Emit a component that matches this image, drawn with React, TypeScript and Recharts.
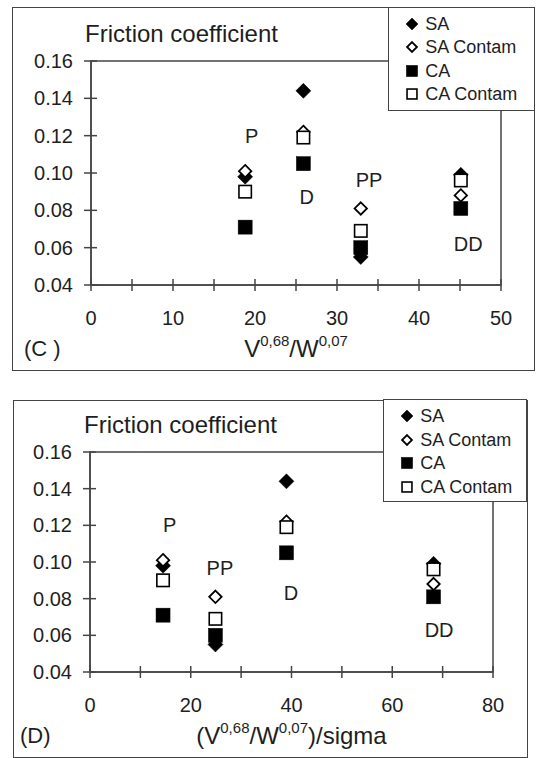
import React from "react";
import { ScatterChart, Scatter, XAxis, YAxis, ReferenceArea } from "recharts";

const FONT = "'Liberation Sans', Arial, Helvetica, sans-serif";
const INK = "#1e1e1e";
const LINE = "#444444";

// friction coefficient per test point, order P, D, PP, DD
const SA = [0.098, 0.144, 0.055, 0.099];
const SA_CONTAM = [0.101, 0.122, 0.081, 0.088];
const CA = [0.071, 0.105, 0.06, 0.081];
const CA_CONTAM = [0.09, 0.119, 0.069, 0.096];

// x positions: (C) V^0.68/W^0.07, (D) the same divided by sigma
const X_C = [18.8, 25.9, 32.9, 45.1];
const X_D = [14.5, 39.0, 24.9, 68.2];

const Y_MIN = 0.04;
const Y_MAX = 0.16;
const Y_TICKS = [0.04, 0.06, 0.08, 0.1, 0.12, 0.14, 0.16];
const X_TICKS_C = [0, 5, 10, 15, 20, 25, 30, 35, 40, 45, 50];
const X_TICKS_D = [0, 10, 20, 30, 40, 50, 60, 70, 80];

// regime notes written inside the plots
const NOTE_TEXT_C = ["P", "D", "PP", "DD"];
const NOTE_X_C = [19.6, 26.3, 33.9, 46.0];
const NOTE_Y_C = [0.12, 0.087, 0.096, 0.062];
const NOTE_TEXT_D = ["P", "PP", "D", "DD"];
const NOTE_X_D = [15.8, 25.8, 39.9, 69.3];
const NOTE_Y_D = [0.12, 0.097, 0.083, 0.063];

const SERIES = [
  { name: "SA", values: SA, kind: "diamond", filled: true },
  { name: "SA Contam", values: SA_CONTAM, kind: "diamond", filled: false },
  { name: "CA", values: CA, kind: "square", filled: true },
  { name: "CA Contam", values: CA_CONTAM, kind: "square", filled: false },
];

function Marker({ cx, cy, kind, filled, scale = 1 }: any) {
  if (cx == null || cy == null) return null;
  if (kind === "diamond") {
    const h = (filled ? 7.5 : 6.2) * scale;
    return (
      <path
        d={`M${cx},${cy - h}L${cx + h},${cy}L${cx},${cy + h}L${cx - h},${cy}Z`}
        fill={filled ? "#000" : "#fff"}
        stroke="#000"
        strokeWidth={filled ? 0.5 : 1.8}
      />
    );
  }
  const h = (filled ? 7 : 6.2) * scale;
  return (
    <rect
      x={cx - h}
      y={cy - h}
      width={2 * h}
      height={2 * h}
      fill={filled ? "#000" : "#fff"}
      stroke="#000"
      strokeWidth={filled ? 0.5 : 1.6}
    />
  );
}

// axis numbers only; the crossing tick marks are drawn as small scatter glyphs
const XTick = ({ x, y, payload, every }: any) =>
  payload.value % every === 0 ? (
    <text x={x} y={y + 40} textAnchor="middle" fontSize={20} fill={INK} fontFamily={FONT}>
      {payload.value}
    </text>
  ) : (
    <g />
  );

const YTick = ({ x, y, payload }: any) => (
  <text x={x - 18} y={y + 7} textAnchor="end" fontSize={20} fill={INK} fontFamily={FONT}>
    {payload.value.toFixed(2)}
  </text>
);

const YTitle = ({ viewBox }: any) => (
  <text x={viewBox.x + viewBox.width - 6} y={viewBox.y - 19} fontSize={24} fill={INK} fontFamily={FONT}>
    Friction coefficient
  </text>
);

const XTitle = ({ viewBox, tag, tagDx, sigma }: any) => {
  const cx = viewBox.x + viewBox.width / 2;
  const base = viewBox.y + 72;
  return (
    <g fontFamily={FONT} fill={INK}>
      <text x={viewBox.x + tagDx} y={base - 1} fontSize={22}>{tag}</text>
      <text x={cx} y={base} textAnchor="middle" fontSize={24}>
        <tspan>{sigma ? "(V" : "V"}</tspan>
        <tspan fontSize={15} dy={-11}>0,68</tspan>
        <tspan dy={11}>/W</tspan>
        <tspan fontSize={15} dy={-11}>0,07</tspan>
        {sigma && <tspan dy={11}>)/sigma</tspan>}
      </text>
    </g>
  );
};

const LegendBox = ({ width, height }: any) => (
  <div
    style={{
      width,
      height,
      border: `1.5px solid ${LINE}`,
      boxSizing: "border-box",
      background: "#fff",
      paddingTop: 4.5,
    }}
  >
    {SERIES.map((s) => (
      <div key={s.name} style={{ height: 23.5, display: "flex", alignItems: "center" }}>
        <svg width={14} height={14} style={{ marginLeft: 16.5, marginRight: 6 }}>
          <Marker cx={7} cy={7} kind={s.kind} filled={s.filled} scale={0.8} />
        </svg>
        <span style={{ fontSize: 18, fontFamily: FONT, color: INK, lineHeight: 1 }}>{s.name}</span>
      </div>
    ))}
  </div>
);

function Panel({ box, chart, xs, xTicks, xMax, every, notes, tag, tagDx, sigma, legend }: any) {
  const noteRows = notes.text.map((t: string, i: number) => ({ x: notes.x[i], y: notes.y[i], t }));
  const xTickRows = xTicks.map((t: number) => ({ x: t, y: Y_MIN }));
  const yTickRows = Y_TICKS.map((t) => ({ x: 0, y: t }));
  return (
    <div
      style={{
        position: "absolute",
        left: box.left,
        top: box.top,
        width: box.width,
        height: box.height,
        border: `1.5px solid ${LINE}`,
        boxSizing: "border-box",
        background: "#fff",
      }}
    >
      <ScatterChart
        width={chart.width}
        height={chart.height}
        margin={{ top: chart.top, right: chart.right, left: 0, bottom: 0 }}
      >
        <XAxis
          type="number"
          dataKey="x"
          domain={[0, xMax]}
          ticks={xTicks}
          interval={0}
          height={chart.xh}
          tickSize={0}
          tickMargin={0}
          tickLine={false}
          axisLine={{ stroke: LINE, strokeWidth: 1.5 }}
          tick={<XTick every={every} />}
          label={<XTitle tag={tag} tagDx={tagDx} sigma={sigma} />}
        />
        <YAxis
          type="number"
          dataKey="y"
          domain={[Y_MIN, Y_MAX]}
          ticks={Y_TICKS}
          interval={0}
          width={chart.yw}
          tickSize={0}
          tickMargin={0}
          tickLine={false}
          axisLine={{ stroke: LINE, strokeWidth: 1.5 }}
          tick={<YTick />}
          label={<YTitle />}
        />
        <ReferenceArea x1={0} x2={xMax} y1={Y_MIN} y2={Y_MAX} fill="none" stroke={LINE} strokeWidth={1.5} />
        <Scatter
          name="x ticks"
          data={xTickRows}
          isAnimationActive={false}
          legendType="none"
          shape={(p: any) => (
            <path d={`M${p.cx},${p.cy - 6}V${p.cy + 6}`} stroke={LINE} strokeWidth={1.5} fill="none" />
          )}
        />
        <Scatter
          name="y ticks"
          data={yTickRows}
          isAnimationActive={false}
          legendType="none"
          shape={(p: any) => (
            <path d={`M${p.cx - 7},${p.cy}H${p.cx + 6}`} stroke={LINE} strokeWidth={1.5} fill="none" />
          )}
        />
        {SERIES.map((s) => (
          <Scatter
            key={s.name}
            name={s.name}
            data={xs.map((x: number, i: number) => ({ x, y: s.values[i] }))}
            isAnimationActive={false}
            shape={(p: any) => <Marker cx={p.cx} cy={p.cy} kind={s.kind} filled={s.filled} />}
          />
        ))}
        <Scatter
          name="notes"
          data={noteRows}
          isAnimationActive={false}
          legendType="none"
          shape={(p: any) => (
            <text x={p.cx} y={p.cy + 7} textAnchor="middle" fontSize={20} fill={INK} fontFamily={FONT}>
              {p.payload.t}
            </text>
          )}
        />
      </ScatterChart>
      <div style={{ position: "absolute", left: legend.left, top: legend.top }}>
        <LegendBox width={legend.width} height={legend.height} />
      </div>
    </div>
  );
}

export default function App() {
  return (
    <div style={{ position: "absolute", left: 0, top: 0, width: 536, height: 758, background: "#fff" }}>
      <Panel
        box={{ left: 11.5, top: 7, width: 523.5, height: 363.5 }}
        chart={{ width: 520, height: 360, top: 53, right: 32, yw: 78, xh: 83 }}
        xs={X_C}
        xTicks={X_TICKS_C}
        xMax={50}
        every={10}
        notes={{ text: NOTE_TEXT_C, x: NOTE_X_C, y: NOTE_Y_C }}
        tag="(C )"
        tagDx={-67}
        sigma={false}
        legend={{ left: 375.3, top: -1.5, width: 147, height: 104.5 }}
      />
      <Panel
        box={{ left: 13, top: 399.5, width: 514.5, height: 358 }}
        chart={{ width: 511, height: 355, top: 51, right: 32, yw: 76, xh: 84 }}
        xs={X_D}
        xTicks={X_TICKS_D}
        xMax={80}
        every={20}
        notes={{ text: NOTE_TEXT_D, x: NOTE_X_D, y: NOTE_Y_D }}
        tag="(D)"
        tagDx={-70}
        sigma={true}
        legend={{ left: 368.8, top: -1.5, width: 144, height: 102.5 }}
      />
    </div>
  );
}
